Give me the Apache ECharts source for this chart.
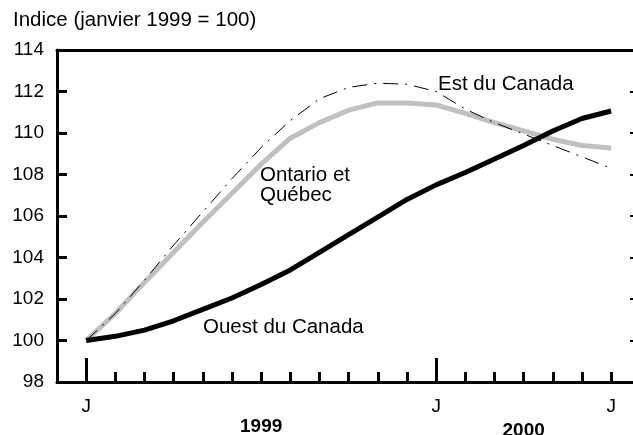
<!DOCTYPE html>
<html>
<head>
<meta charset="utf-8">
<script src="https://cdn.jsdelivr.net/npm/echarts@6/dist/echarts.min.js"></script>
<style>
  html, body { margin: 0; padding: 0; background: #fff; }
  #main { width: 633px; height: 435px; }
</style>
</head>
<body>
<div id="main"></div>
<script>
// mois de janvier 1999 à juillet 2000 (index 0..18)
var monthLetters = ['J', 'F', 'M', 'A', 'M', 'J', 'J', 'A', 'S', 'O', 'N', 'D',
                    'J', 'F', 'M', 'A', 'M', 'J', 'J'];
var yearLabels = { 6: '1999', 15: '2000' };

// séries (indice, janvier 1999 = 100)
var ouest   = [100.0, 100.2, 100.5, 100.95, 101.5, 102.05, 102.7, 103.4, 104.25, 105.1,
               105.95, 106.8, 107.5, 108.1, 108.75, 109.4, 110.1, 110.7, 111.06];
var ontario = [100.0, 101.3, 102.8, 104.25, 105.7, 107.1, 108.5, 109.75, 110.5, 111.1,
               111.45, 111.45, 111.35, 110.95, 110.5, 110.1, 109.7, 109.4, 109.28];
var est     = [100.0, 101.3, 102.9, 104.6, 106.2, 107.8, 109.3, 110.6, 111.65, 112.2,
               112.4, 112.35, 112.0, 111.15, 110.5, 109.95, 109.4, 108.85, 108.3];

var minorTicks = [];
for (var i = 1; i < monthLetters.length; i++) minorTicks.push(i);

function pairs(arr) {
  return arr.map(function (v, i) { return [i, v]; });
}

var font = '"Liberation Sans", Arial, sans-serif';
var myChart = echarts.init(document.getElementById('main'));

var option = {
  animation: false,
  backgroundColor: '#fff',
  grid: { left: 57, right: 0, top: 50, bottom: 53, containLabel: false, outerBoundsMode: 'none' },
  xAxis: [
    {
      // axe du bas + petites graduations
      type: 'value', min: -1, max: 18.75, position: 'bottom',
      axisLine: { onZero: false, lineStyle: { color: '#000', width: 3 } },
      axisTick: { inside: true, length: 10, customValues: minorTicks, lineStyle: { color: '#000', width: 3 } },
      axisLabel: {
        customValues: [0, 12, 18], margin: 15, color: '#000', fontSize: 19, fontFamily: font,
        formatter: function (v) { return monthLetters[v]; }
      },
      splitLine: { show: false }
    },
    {
      // grandes graduations (janvier)
      type: 'value', min: -1, max: 18.75, position: 'bottom',
      axisLine: { show: false, onZero: false },
      axisTick: { inside: true, length: 24, customValues: [0, 12], lineStyle: { color: '#000', width: 3 } },
      axisLabel: { show: false },
      splitLine: { show: false }
    },
    {
      // années
      type: 'value', min: -1, max: 18.75, position: 'bottom',
      axisLine: { show: false, onZero: false },
      axisTick: { show: false },
      axisLabel: {
        customValues: [6, 15], margin: 35, color: '#000', fontSize: 19, fontWeight: 'bold', fontFamily: font,
        formatter: function (v) { return v === 15 ? '{b|' + yearLabels[v] + '}' : yearLabels[v]; },
        rich: { b: { fontSize: 19, fontWeight: 'bold', fontFamily: font, padding: [4, 0, 0, 0] } }
      },
      splitLine: { show: false }
    },
    {
      // trait du haut
      type: 'value', min: -1, max: 18.75, position: 'top',
      axisLine: { onZero: false, lineStyle: { color: '#000', width: 3 } },
      axisTick: { show: false },
      axisLabel: { show: false },
      splitLine: { show: false }
    }
  ],
  yAxis: [
    {
      type: 'value', min: 98, max: 114, interval: 2, position: 'left',
      axisLine: { show: true, onZero: false, lineStyle: { color: '#000', width: 3 } },
      axisTick: { show: true, inside: true, length: 10, lineStyle: { color: '#000', width: 3 } },
      axisLabel: { margin: 13, color: '#000', fontSize: 19, fontFamily: font },
      splitLine: { show: false }
    },
    {
      type: 'value', min: 98, max: 114, interval: 2, position: 'right',
      axisLine: { show: false, onZero: false },
      axisTick: { show: true, inside: true, length: 3, lineStyle: { color: '#000', width: 2 } },
      axisLabel: { show: false },
      splitLine: { show: false }
    }
  ],
  series: [
    {
      name: 'Ontario et Québec', type: 'line', data: pairs(ontario), symbol: 'none',
      lineStyle: { color: '#c0c0c0', width: 5 }
    },
    {
      name: 'Est du Canada', type: 'line', data: pairs(est), symbol: 'none',
      lineStyle: { color: '#000', width: 1, type: [15, 7, 2, 7] }
    },
    {
      name: 'Ouest du Canada', type: 'line', data: pairs(ouest), symbol: 'none',
      lineStyle: { color: '#000', width: 5 }
    }
  ],
  graphic: [
    { type: 'text', x: 13, y: 20, style: { text: 'Indice (janvier 1999 = 100)', font: '20.5px ' + font, fill: '#000', verticalAlign: 'middle' } },
    { type: 'text', x: 438, y: 84, style: { text: 'Est du Canada', font: '20.5px ' + font, fill: '#000', verticalAlign: 'middle' } },
    { type: 'text', x: 260, y: 175, style: { text: 'Ontario et', font: '20.5px ' + font, fill: '#000', verticalAlign: 'middle' } },
    { type: 'text', x: 260, y: 195, style: { text: 'Québec', font: '20.5px ' + font, fill: '#000', verticalAlign: 'middle' } },
    { type: 'text', x: 203, y: 327, style: { text: 'Ouest du Canada', font: '20.5px ' + font, fill: '#000', verticalAlign: 'middle' } }
  ]
};

myChart.setOption(option);
</script>
</body>
</html>
